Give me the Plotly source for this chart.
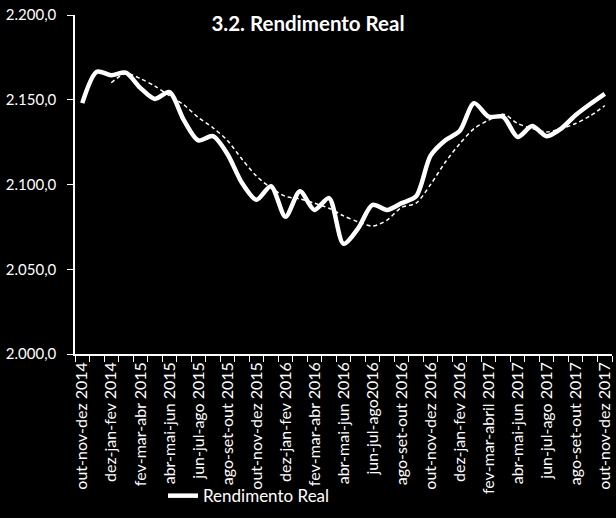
import plotly.graph_objects as go

categories = [
    "out-nov-dez 2014", "nov-dez-jan 2015", "dez-jan-fev 2014", "jan-fev-mar 2015",
    "fev-mar-abr 2015", "mar-abr-mai 2015", "abr-mai-jun 2015", "mai-jun-jul 2015",
    "jun-jul-ago 2015", "jul-ago-set 2015", "ago-set-out 2015", "set-out-nov 2015",
    "out-nov-dez 2015", "nov-dez-jan 2016", "dez-jan-fev 2016", "jan-fev-mar 2016",
    "fev-mar-abr 2016", "mar-abr-mai 2016", "abr-mai-jun 2016", "mai-jun-jul 2016",
    "jun-jul-ago2016", "jul-ago-set 2016", "ago-set-out 2016", "set-out-nov 2016",
    "out-nov-dez 2016", "nov-dez-jan 2017", "dez-jan-fev 2016", "jan-fev-mar 2017",
    "fev-mar-abril 2017", "mar-abr-mai 2017", "abr-mai-jun 2017", "mai-jun-jul 2017",
    "jun-jul-ago 2017", "jul-ago-set 2017", "ago-set-out 2017", "set-out-nov 2017",
    "out-nov-dez 2017",
]

rendimento_real = [
    2148, 2166.5, 2164.5, 2166, 2157, 2150.5, 2154.5, 2138, 2126, 2128.5,
    2118, 2101, 2091, 2099, 2081, 2096, 2085, 2092, 2065, 2074,
    2088, 2085, 2089, 2093, 2117, 2126, 2131.5, 2148, 2140, 2140,
    2128, 2134.5, 2128.5, 2133, 2141, 2147.5, 2153.5,
]

tendencia = [
    None, None, 2160, 2165.5, 2162.5, 2158, 2152.5, 2147, 2139.5, 2133.5,
    2126, 2115, 2105, 2098, 2093, 2091.5, 2089, 2086, 2081.5, 2078,
    2075.5, 2079, 2086.5, 2089, 2100, 2113, 2124, 2133, 2138, 2141.5,
    2136, 2133, 2131, 2133, 2136, 2140.5, 2146.5,
]

y_ticks = [2000, 2050, 2100, 2150, 2200]

x_pos = list(range(len(categories)))
label_pos = x_pos[::2]
label_text = categories[::2]
boundaries = [p - 0.5 for p in x_pos] + [x_pos[-1] + 0.5]

FONT = "Lato"

fig = go.Figure()
fig.add_trace(go.Scatter(
    x=x_pos, y=tendencia, mode="lines", showlegend=False,
    line=dict(color="white", width=1.5, dash="4px,3px", shape="spline", smoothing=0.8),
    connectgaps=False, hoverinfo="skip",
))
fig.add_trace(go.Scatter(
    x=x_pos, y=rendimento_real, mode="lines", name="Rendimento Real",
    line=dict(color="white", width=4.5, shape="spline", smoothing=0.8),
))

fig.update_layout(
    width=616, height=518,
    paper_bgcolor="black", plot_bgcolor="black",
    margin=dict(l=75, r=4, t=15, b=160),
    separators=",.",
    font=dict(family=FONT, color="white", size=15),
    title=dict(text="<b>3.2. Rendimento Real</b>", x=0.5, xref="container",
               y=1 - 24 / 518, yref="container", yanchor="middle", xanchor="center",
               font=dict(family=FONT, size=20.5, color="white")),
    showlegend=True,
    legend=dict(orientation="h", x=(249 - 75) / 537, xanchor="center",
                y=(358 - 520) / 343, yanchor="bottom", bgcolor="rgba(0,0,0,0)",
                font=dict(family=FONT, size=17, color="white"),
                itemwidth=30, tracegroupgap=0),
    xaxis=dict(
        range=[-0.5, len(categories) - 0.5], tickmode="array",
        tickvals=label_pos, ticktext=label_text, tickangle=-90,
        ticks="outside", ticklen=0, tickcolor="black",
        minor=dict(tickmode="array", tickvals=boundaries, ticks="outside",
                   ticklen=6, tickcolor="white", tickwidth=1, showgrid=False),
        showline=True, linecolor="white", linewidth=1.5,
        showgrid=False, zeroline=False,
        tickfont=dict(family=FONT, size=16, color="white"),
    ),
    yaxis=dict(
        range=[2000, 2200], tickmode="array", tickvals=y_ticks, tickformat=",.1f",
        ticks="outside", ticklen=6, tickcolor="white", tickwidth=1,
        ticklabelstandoff=8,
        showline=True, linecolor="white", linewidth=1.5,
        showgrid=False, zeroline=False,
        tickfont=dict(family=FONT, size=15, color="white"),
    ),
)

fig.write_html("out.html")
